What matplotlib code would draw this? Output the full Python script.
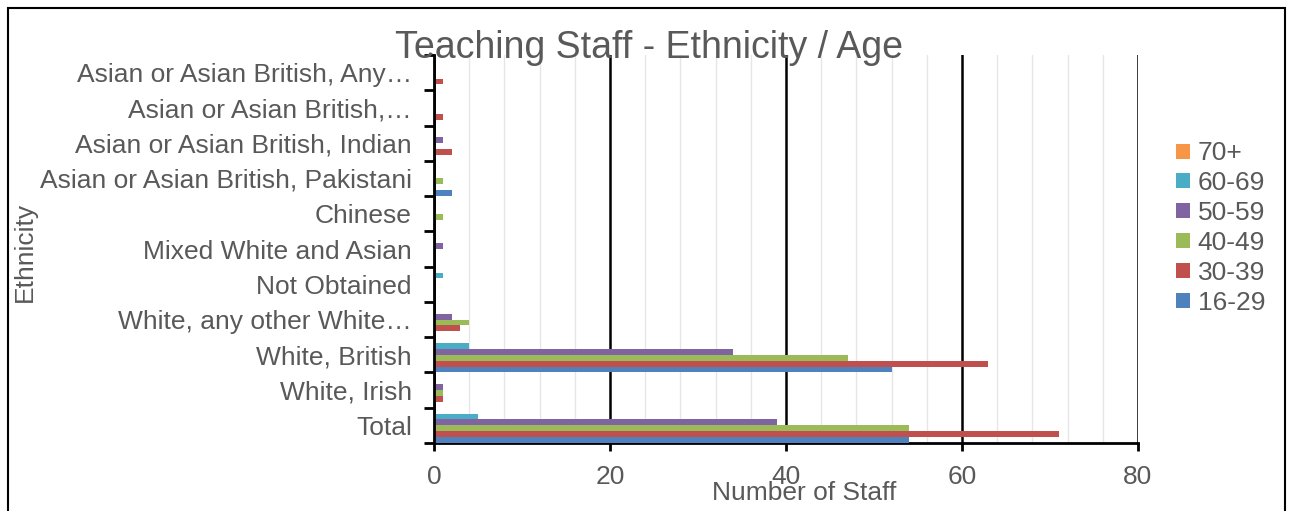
import numpy as np
import matplotlib.pyplot as plt
from matplotlib.patches import Rectangle, Patch

plt.rcParams['font.family'] = ['Liberation Sans', 'DejaVu Sans']

# categories listed bottom to top
categories = ['Total', 'White, Irish', 'White, British', 'White, any other White…',
              'Not Obtained', 'Mixed White and Asian', 'Chinese',
              'Asian or Asian British, Pakistani', 'Asian or Asian British, Indian',
              'Asian or Asian British,…', 'Asian or Asian British, Any…']
age_groups = ['16-29', '30-39', '40-49', '50-59', '60-69', '70+']
colors = ['#4F81BD', '#C0504D', '#9BBB59', '#8064A2', '#4BACC6', '#F79646']

s16_29 = [54, 0, 52, 0, 0, 0, 0, 2, 0, 0, 0]
s30_39 = [71, 1, 63, 3, 0, 0, 0, 0, 2, 1, 1]
s40_49 = [54, 1, 47, 4, 0, 0, 1, 1, 0, 0, 0]
s50_59 = [39, 1, 34, 2, 0, 1, 0, 0, 1, 0, 0]
s60_69 = [5, 0, 4, 0, 1, 0, 0, 0, 0, 0, 0]
s70 = [0, 0, 0, 0, 0, 0, 0, 0, 0, 0, 0]
series = [s16_29, s30_39, s40_49, s50_59, s60_69, s70]

grey = '#595959'
fig = plt.figure(figsize=(12.92, 5.11), dpi=100)
fig.patches.append(Rectangle((8 / 1292, -0.1), 1277 / 1292, 1 - 8 / 511 + 0.1,
                             transform=fig.transFigure, fill=False,
                             edgecolor='black', linewidth=1.5))

ax = fig.add_axes([434 / 1292, 68 / 511, 704 / 1292, 388 / 511])
n = len(age_groups)
h = 1.0 / n
y = np.arange(len(categories))
for k, (vals, col) in enumerate(zip(series, colors)):
    ax.barh(y - 0.5 + (k + 0.5) * h, vals, height=h, color=col, zorder=3)

ax.set_xlim(0, 80)
ax.set_ylim(-0.5, len(categories) - 0.5)
ax.set_xticks([0, 20, 40, 60, 80])
ax.set_xticks(np.arange(0, 81, 4), minor=True)
ax.grid(axis='x', which='minor', color='#e6e6e6', linewidth=1, zorder=0)
ax.grid(axis='x', which='major', color='black', linewidth=1.8, zorder=1)
ax.set_yticks(y)
ax.set_yticklabels(categories)
ax.set_yticks(np.arange(-0.5, len(categories)), minor=True)
ax.tick_params(axis='y', which='major', length=0, pad=16, labelsize=19, labelcolor=grey)
ax.tick_params(axis='y', which='minor', length=7, width=2, color='black')
ax.tick_params(axis='x', which='major', length=6, width=2, pad=10, labelsize=19,
               labelcolor=grey)
ax.tick_params(axis='x', which='minor', length=0)
for side in ['top', 'right']:
    ax.spines[side].set_visible(False)
ax.spines['left'].set_linewidth(2)
ax.spines['bottom'].set_linewidth(2)
ax.spines['left'].set_zorder(4)

fig.text(649 / 1292, 1 - 48 / 511, 'Teaching Staff - Ethnicity / Age', ha='center',
         va='center', fontsize=27, color=grey)
fig.text(804 / 1292, 1 - 493 / 511, 'Number of Staff', ha='center', va='center',
         fontsize=19, color=grey)
fig.text(25 / 1292, 1 - 252 / 511, 'Ethnicity', ha='center', va='center',
         rotation=90, fontsize=19, color=grey)

handles = [Patch(facecolor=c) for c in colors][::-1]
leg = fig.legend(handles, age_groups[::-1], loc='upper left',
                 bbox_to_anchor=(1158 / 1292, 1 - 123 / 511), frameon=False,
                 fontsize=19, handlelength=0.5, handleheight=0.5,
                 handletextpad=0.3, labelspacing=0.22, borderpad=0.2)
for t in leg.get_texts():
    t.set_color(grey)

fig.savefig('out.png', dpi=100)
